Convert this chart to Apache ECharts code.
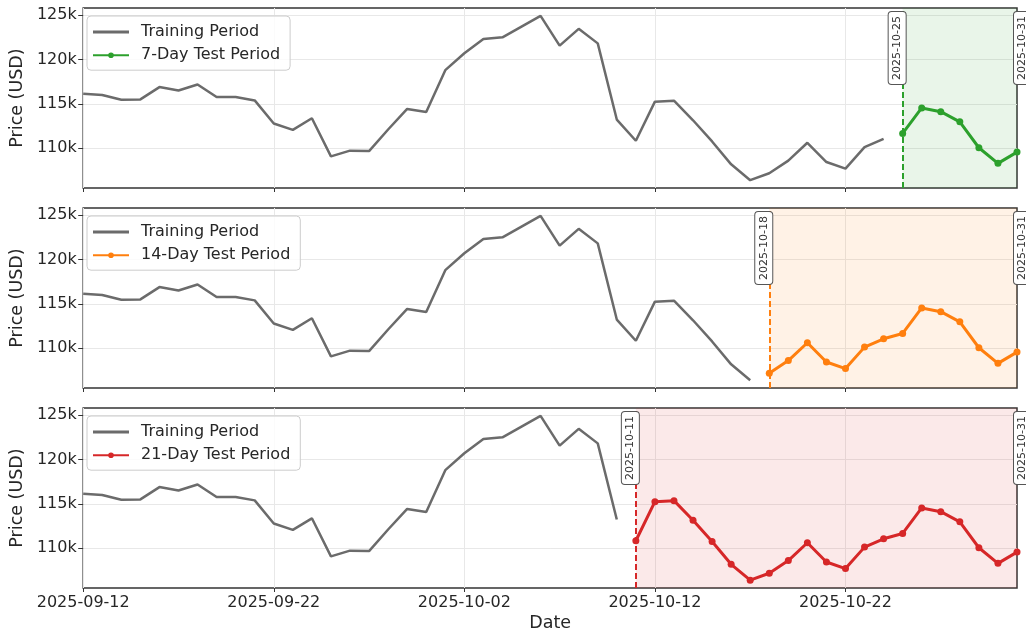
<!DOCTYPE html>
<html>
<head>
<meta charset="utf-8">
<script src="https://cdn.jsdelivr.net/npm/echarts@6/dist/echarts.min.js"></script>
<style>
  html, body { margin: 0; padding: 0; background: #fff; }
  #chart { width: 1026px; height: 634px; }
</style>
</head>
<body>
<div id="chart"></div>
<script>
// daily closing prices, 2025-09-12 .. 2025-10-31
const dates = [
  '2025-09-12', '2025-09-13', '2025-09-14', '2025-09-15', '2025-09-16',
  '2025-09-17', '2025-09-18', '2025-09-19', '2025-09-20', '2025-09-21',
  '2025-09-22', '2025-09-23', '2025-09-24', '2025-09-25', '2025-09-26',
  '2025-09-27', '2025-09-28', '2025-09-29', '2025-09-30', '2025-10-01',
  '2025-10-02', '2025-10-03', '2025-10-04', '2025-10-05', '2025-10-06',
  '2025-10-07', '2025-10-08', '2025-10-09', '2025-10-10', '2025-10-11',
  '2025-10-12', '2025-10-13', '2025-10-14', '2025-10-15', '2025-10-16',
  '2025-10-17', '2025-10-18', '2025-10-19', '2025-10-20', '2025-10-21',
  '2025-10-22', '2025-10-23', '2025-10-24', '2025-10-25', '2025-10-26',
  '2025-10-27', '2025-10-28', '2025-10-29', '2025-10-30', '2025-10-31'
]
const prices = [
  116130, 115990, 115460, 115490, 116880, 116500, 117180, 115760, 115760, 115380,
  112770, 112060, 113360, 109070, 109710, 109660, 112100, 114420, 114080, 118790,
  120690, 122300, 122490, 123700, 124910, 121550, 123450, 121810, 113220, 110830,
  115240, 115350, 113140, 110750, 108170, 106380, 107160, 108590, 110600, 108430,
  107690, 110110, 111050, 111650, 114530, 114110, 112960, 110040, 108280, 109550
]
const testDays = [7, 14, 21]
const testColors = ['#2ca02c', '#ff7f0e', '#d62728']
const testShades = ['rgba(44,160,44,0.1)', 'rgba(255,127,14,0.1)', 'rgba(214,39,40,0.1)']
const yTicks = [110000, 115000, 120000, 125000]

const FONT = 'DejaVu Sans'
const TXT = '#262626'
const GREY = '#6b6b6b'
const GRIDLINE = '#e8e8e8'
const tops = [8, 208, 408]

var grid = []
var xAxis = []
var yAxis = []
var series = []
var legend = []

testDays.forEach(function (days, i) {
  var split = dates.length - days
  var last = dates.length - 1
  var testName = days + '-Day Test Period'
  var train = prices.map(function (v, k) { return k < split ? v : null })
  var test = prices.map(function (v, k) { return k >= split ? v : null })

  grid.push({
    left: 79, right: 9, top: tops[i], height: 180,
    show: true, borderColor: '#333', borderWidth: 1.5
  })

  xAxis.push({
    type: 'category',
    gridIndex: i,
    data: dates,
    boundaryGap: false,
    axisLine: { show: false },
    axisTick: { show: true, interval: 9, length: 4, lineStyle: { color: '#333', width: 1 } },
    axisLabel: {
      show: i === 2, interval: 9, fontSize: 16, color: TXT, fontFamily: FONT, margin: 7
    },
    splitLine: { show: true, interval: 9, lineStyle: { color: GRIDLINE, width: 1 } },
    name: i === 2 ? 'Date' : '',
    nameLocation: 'middle',
    nameGap: 26,
    nameTextStyle: { fontSize: 17.5, color: TXT, fontFamily: FONT }
  })

  yAxis.push({
    type: 'value',
    gridIndex: i,
    min: 105500,
    max: 125800,
    axisLine: { show: false },
    axisTick: { show: true, length: 5, lineStyle: { color: '#333' }, customValues: yTicks },
    axisLabel: {
      customValues: yTicks,
      formatter: function (v) { return v / 1000 + 'k' },
      fontSize: 16, color: TXT, fontFamily: FONT, margin: 6.5
    },
    splitLine: { show: true, lineStyle: { color: GRIDLINE, width: 1 } },
    name: 'Price (USD)',
    nameLocation: 'middle',
    nameGap: 53,
    nameTextStyle: { fontSize: 17.5, color: TXT, fontFamily: FONT }
  })

  var boxLabel = {
    show: true,
    fontSize: 11,
    lineHeight: 13,
    color: '#333',
    fontFamily: FONT,
    backgroundColor: '#fff',
    borderColor: '#555',
    borderWidth: 1,
    borderRadius: 3,
    padding: [2, 4]
  }

  series.push({
    name: 'Training Period',
    type: 'line',
    xAxisIndex: i,
    yAxisIndex: i,
    data: train,
    symbol: 'none',
    showSymbol: false,
    lineStyle: { color: GREY, width: 2.5 },
    itemStyle: { color: GREY },
    z: 3
  })

  series.push({
    name: testName,
    type: 'line',
    xAxisIndex: i,
    yAxisIndex: i,
    data: test,
    symbol: 'circle',
    symbolSize: 7,
    lineStyle: { color: testColors[i], width: 3 },
    itemStyle: { color: testColors[i] },
    z: 4,
    markArea: {
      silent: true,
      itemStyle: { color: testShades[i] },
      data: [[{ xAxis: dates[split] }, { xAxis: dates[last] }]]
    },
    markLine: {
      silent: true,
      symbol: ['none', 'none'],
      lineStyle: { color: testColors[i], type: [6, 3], width: 2 },
      data: [
        {
          xAxis: dates[split],
          label: Object.assign({}, boxLabel, {
            position: 'insideEndTop', distance: [4, -3], formatter: dates[split]
          })
        },
        {
          xAxis: dates[last],
          lineStyle: { color: 'rgba(0,0,0,0)' },
          label: Object.assign({}, boxLabel, {
            position: 'insideEndBottom', distance: [4, -3], formatter: dates[last]
          })
        }
      ]
    }
  })

  legend.push({
    orient: 'vertical',
    left: 87,
    top: tops[i] + 8,
    data: [
      { name: 'Training Period', icon: 'path://M0,0H36V3H0Z', itemStyle: { color: GREY } },
      testName
    ],
    padding: [8, 10, 7, 5],
    itemGap: 7.2,
    itemWidth: 36,
    itemHeight: 7,
    textStyle: { fontSize: 16, color: TXT, fontFamily: FONT, padding: [0, 0, 0, 7] },
    borderColor: '#cccccc',
    borderWidth: 1,
    borderRadius: 4,
    backgroundColor: 'rgba(255,255,255,0.8)'
  })
})

var myChart = echarts.init(document.getElementById('chart'))
myChart.setOption({
  animation: false,
  textStyle: { fontFamily: FONT },
  grid: grid,
  xAxis: xAxis,
  yAxis: yAxis,
  legend: legend,
  series: series
})
</script>
</body>
</html>
